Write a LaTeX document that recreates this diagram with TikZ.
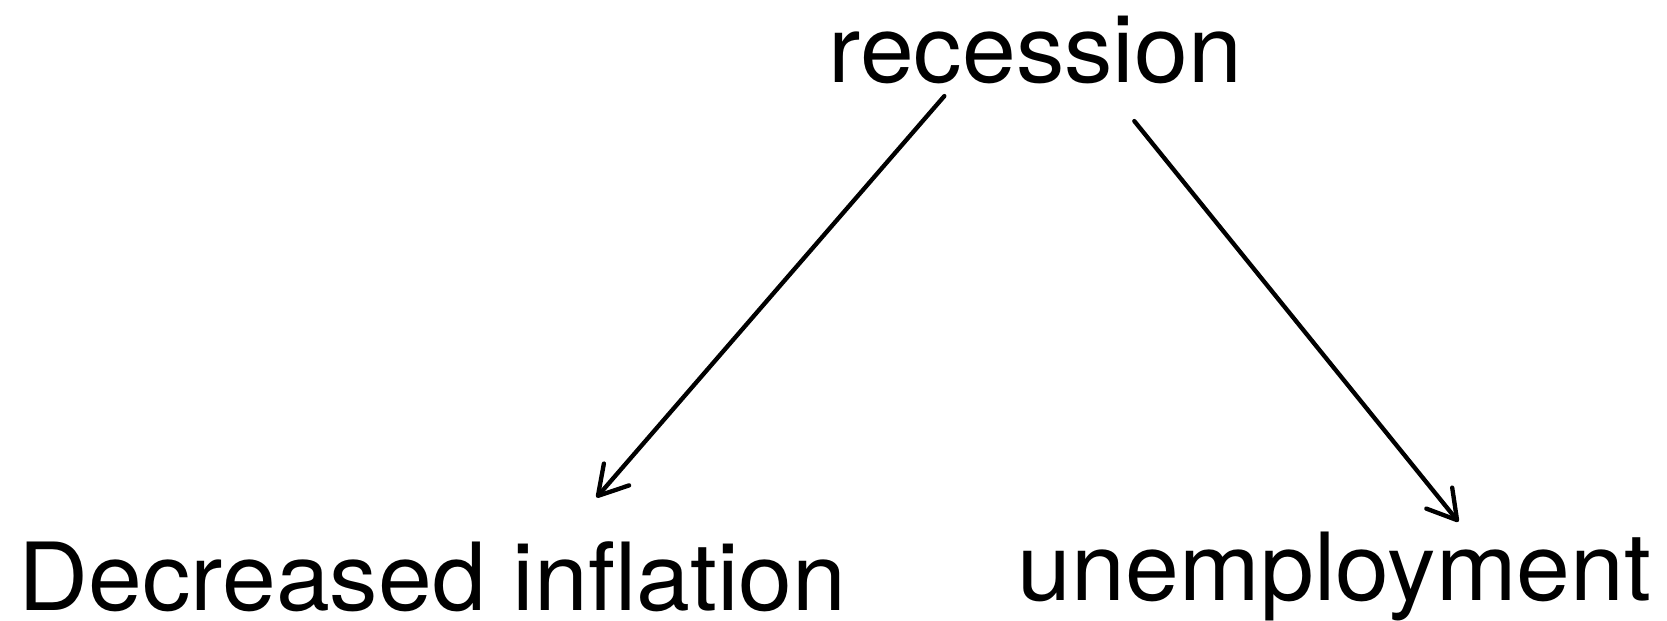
\documentclass[tikz,border=0pt]{standalone}
\usepackage{fontspec}
\setmainfont[FakeStretch=1.03]{TeX Gyre Heros}
\usepackage{xcolor}
\usetikzlibrary{arrows.meta, positioning, calc}
\definecolor{ink}{HTML}{000000}
\tikzset{
  word/.style = {inner sep=0pt, anchor=base west, text=ink,
                 font=\fontsize{28.2}{34}\selectfont},
  arr/.style  = {-{Straight Barb[length=8.5pt, width=10pt, round]},
                 line width=1.3pt, line cap=round, ink},
}
\begin{document}
\begin{tikzpicture}[x=0.3pt, y=-0.3pt]
  \useasboundingbox (0,0) rectangle (1667,620);
  \node[word] (rec)   at (828,82)   {recession};
  \node[word] (infl)  at (18,610)   {Decreased inflation};
  \node[word] (unemp) at (1017,600) {unemployment};
  \draw[arr] ($(rec.south)+(-91,12)$) -- ($(infl.north)+(164,-43)$);
  \draw[arr] ($(rec.south)+(99,37)$) -- ($(unemp.north)+(124,-9)$);
\end{tikzpicture}
\end{document}
